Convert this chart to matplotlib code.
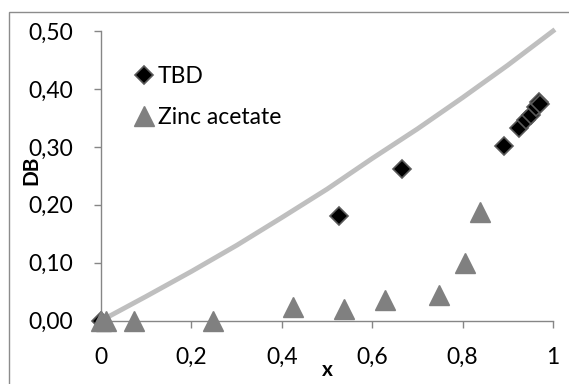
import numpy as np
import matplotlib
matplotlib.use("Agg")
import matplotlib.pyplot as plt
from matplotlib.patches import Rectangle

# data
tbd_x = [0.0, 0.526, 0.665, 0.892, 0.924, 0.940, 0.952, 0.962, 0.969, 0.972]
tbd_y = [0.0, 0.181, 0.262, 0.302, 0.333, 0.346, 0.355, 0.369, 0.378, 0.374]

zinc_x = [0.0, 0.01, 0.072, 0.247, 0.424, 0.538, 0.628, 0.747, 0.806, 0.839]
zinc_y = [0.0, 0.0, 0.0, 0.0, 0.024, 0.020, 0.036, 0.045, 0.099, 0.188]

curve_x = [0.0, 0.1, 0.2, 0.3, 0.4, 0.5, 0.6, 0.7, 0.8, 0.9, 1.0]
curve_y = [0.0, 0.042, 0.085, 0.130, 0.178, 0.227, 0.280, 0.331, 0.385, 0.441, 0.500]

xticks = [0, 0.2, 0.4, 0.6, 0.8, 1.0]
xtick_labels = ["0", "0,2", "0,4", "0,6", "0,8", "1"]
yticks = [0.0, 0.1, 0.2, 0.3, 0.4, 0.5]
ytick_labels = ["0,00", "0,10", "0,20", "0,30", "0,40", "0,50"]

plt.rcParams['font.family'] = ['Lato', 'DejaVu Sans']

W, H = 569, 384
fig = plt.figure(figsize=(W / 100, H / 100), dpi=100)
fig.patch.set_facecolor("white")
fig.patches.append(Rectangle((9 / W, -0.01), 1.0, 1 - 12 / H + 0.01, transform=fig.transFigure,
                             fill=False, edgecolor="#8c8c8c", linewidth=1.0))

ax = fig.add_axes([101 / W, (H - 320.7) / H, 452 / W, 289.7 / H])

ax.plot(curve_x, curve_y, color="#bfbfbf", linewidth=3.5, zorder=2, clip_on=False)
ax.plot(tbd_x, tbd_y, linestyle="none", marker="D", markersize=9,
        markerfacecolor="black", markeredgecolor="#5a5a5a", markeredgewidth=1.2,
        clip_on=False, zorder=3, label="TBD")
ax.plot(zinc_x, zinc_y, linestyle="none", marker="^", markersize=15,
        markerfacecolor="#808080", markeredgecolor="#808080", clip_on=False,
        zorder=4, label="Zinc acetate")

ax.set_xlim(0, 1)
ax.set_ylim(0, 0.5)
ax.set_xticks(xticks)
ax.set_xticklabels(xtick_labels)
ax.set_yticks(yticks)
ax.set_yticklabels(ytick_labels)

for s in ["top", "right"]:
    ax.spines[s].set_visible(False)
for s in ["left", "bottom"]:
    ax.spines[s].set_color("#868686")
    ax.spines[s].set_linewidth(1.0)
ax.tick_params(axis="both", direction="out", length=5, width=1.0, color="#868686",
               labelsize=16.5, labelcolor="black")
ax.tick_params(axis="x", pad=14)
ax.tick_params(axis="y", pad=15)

ax.set_xlabel("x", fontsize=15, fontweight="bold", labelpad=-6)
ax.set_ylabel("DB", fontsize=15, fontweight="bold")
ax.yaxis.set_label_coords(-0.131, 0.52)

ax.legend(loc="upper left", bbox_to_anchor=(0.06, 0.91),
          frameon=False, fontsize=16.5, handlelength=0.6, handletextpad=0.3,
          labelspacing=0.85, borderaxespad=0)

fig.savefig("out.png", dpi=100)
